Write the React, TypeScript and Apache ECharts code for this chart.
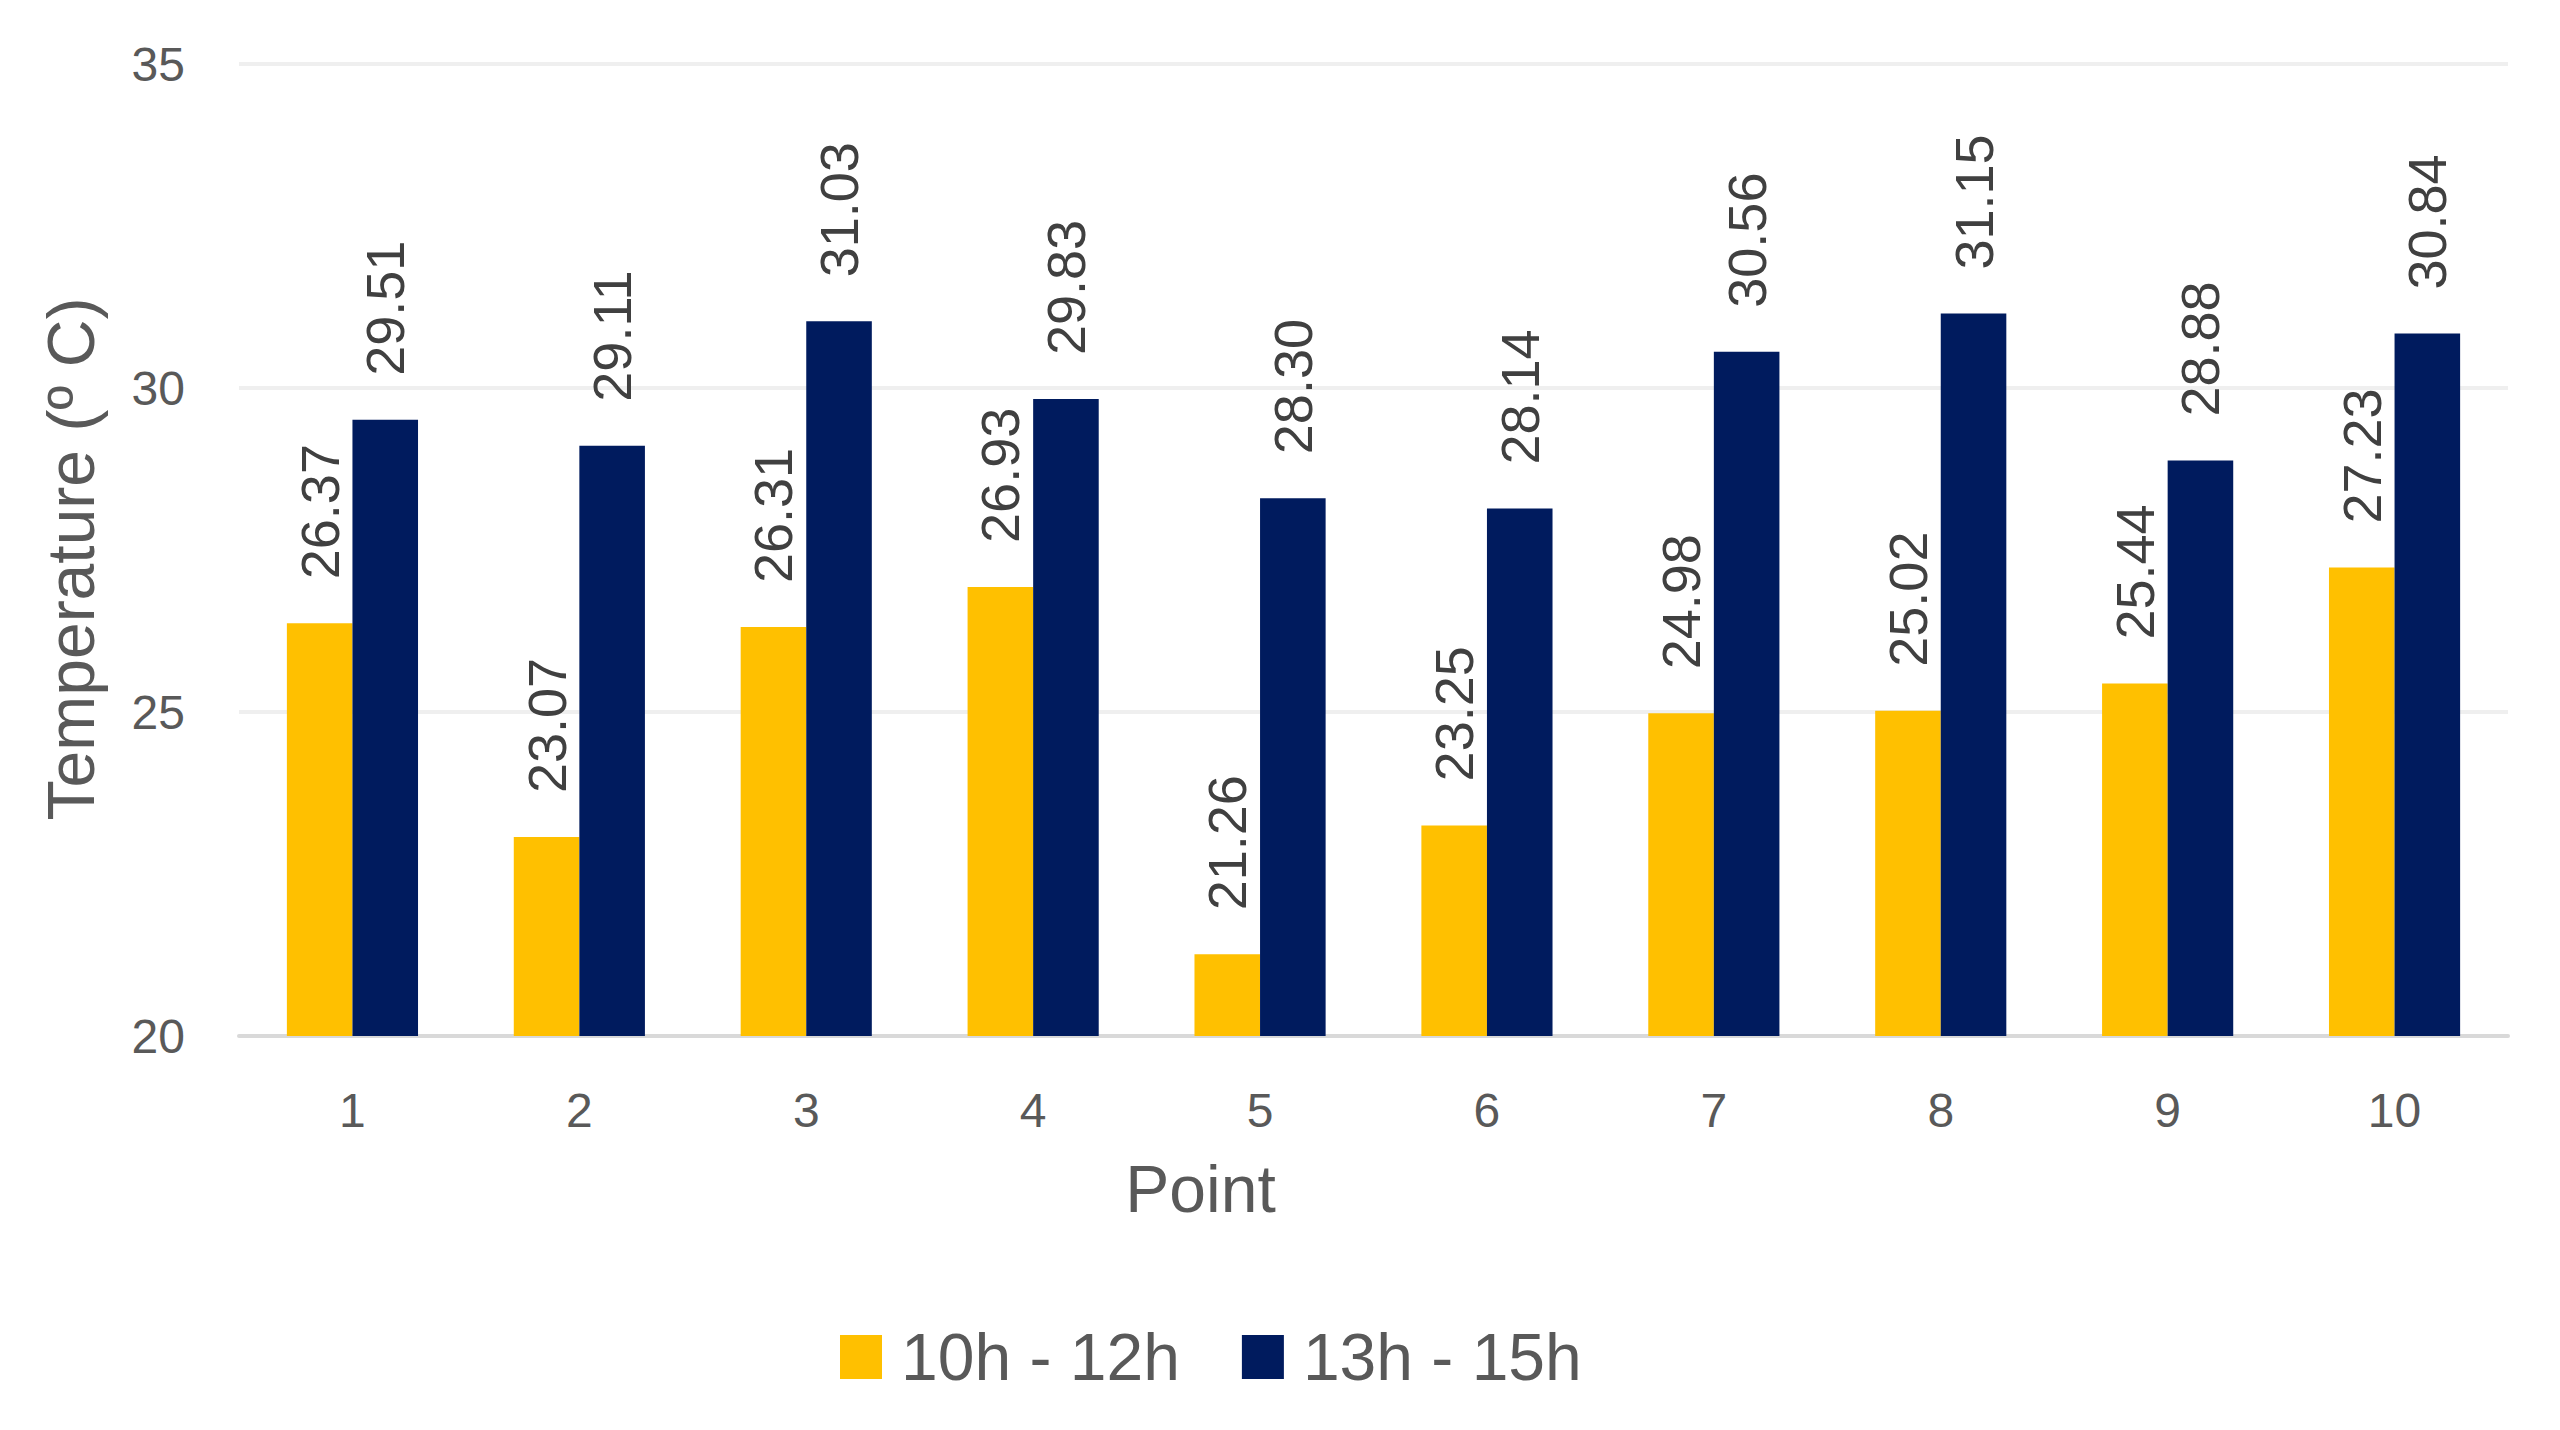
import React, { useEffect, useRef } from "react";
import * as echarts from "echarts";

const categories = ["1", "2", "3", "4", "5", "6", "7", "8", "9", "10"];
const seriesNames = ["10h - 12h", "13h - 15h"];
const morning = [26.37, 23.07, 26.31, 26.93, 21.26, 23.25, 24.98, 25.02, 25.44, 27.23];
const afternoon = [29.51, 29.11, 31.03, 29.83, 28.3, 28.14, 30.56, 31.15, 28.88, 30.84];
const yMin = 20;
const yMax = 35;
const yStep = 5;

const FONT = "'Liberation Sans', Arial, sans-serif";
const TEXT = "#595959";

export default function App() {
  const ref = useRef<HTMLDivElement>(null);
  useEffect(() => {
    if (!ref.current) return;
    const chart = echarts.init(ref.current, undefined, { renderer: "svg" });
    const label = {
      show: true,
      position: "top",
      rotate: 90,
      align: "left",
      verticalAlign: "middle",
      distance: 44,
      fontSize: 54,
      fontFamily: FONT,
      color: "#404040",
      formatter: (p: any) => Number(p.value).toFixed(2),
    };
    chart.setOption({
      animation: false,
      backgroundColor: "#ffffff",
      textStyle: { fontFamily: FONT },
      grid: { left: 239, right: 52, top: 64, bottom: 394, containLabel: false },
      legend: {
        data: seriesNames,
        left: 835,
        top: 1319,
        itemWidth: 42,
        itemHeight: 44,
        itemGap: 62,
        icon: "rect",
        textStyle: { fontSize: 66, color: TEXT, fontFamily: FONT, padding: [0, 0, 0, 14] },
      },
      xAxis: {
        type: "category",
        data: categories,
        name: "Point",
        nameLocation: "middle",
        nameGap: 120,
        nameTextStyle: { fontSize: 66, color: TEXT, fontFamily: FONT, padding: [0, 346, 0, 0] },
        axisLine: { show: true, lineStyle: { color: "#d9d9d9", width: 4 } },
        axisTick: { show: false },
        axisLabel: { fontSize: 48, color: TEXT, margin: 50, fontFamily: FONT },
        splitLine: { show: false },
      },
      yAxis: {
        type: "value",
        min: yMin,
        max: yMax,
        interval: yStep,
        name: "Temperature (º C)",
        nameLocation: "middle",
        nameGap: 135,
        nameTextStyle: { fontSize: 66, color: TEXT, fontFamily: FONT, padding: [0, 18, 0, 0] },
        axisLine: { show: false },
        axisTick: { show: false },
        axisLabel: { fontSize: 48, color: TEXT, margin: 54, fontFamily: FONT },
        splitLine: { show: true, lineStyle: { color: "#efefef", width: 4 } },
      },
      series: [
        {
          name: seriesNames[0],
          type: "bar",
          data: morning,
          barWidth: "28.9%",
          barGap: "0%",
          barCategoryGap: "42%",
          itemStyle: { color: "#FFC000" },
          label,
        },
        {
          name: seriesNames[1],
          type: "bar",
          data: afternoon,
          barWidth: "28.9%",
          barGap: "0%",
          barCategoryGap: "42%",
          itemStyle: { color: "#001B5E" },
          label,
        },
      ],
    });
    return () => chart.dispose();
  }, []);
  return (
    <div
      ref={ref}
      style={{ position: "absolute", left: 0, top: 0, width: 2560, height: 1430 }}
    />
  );
}
